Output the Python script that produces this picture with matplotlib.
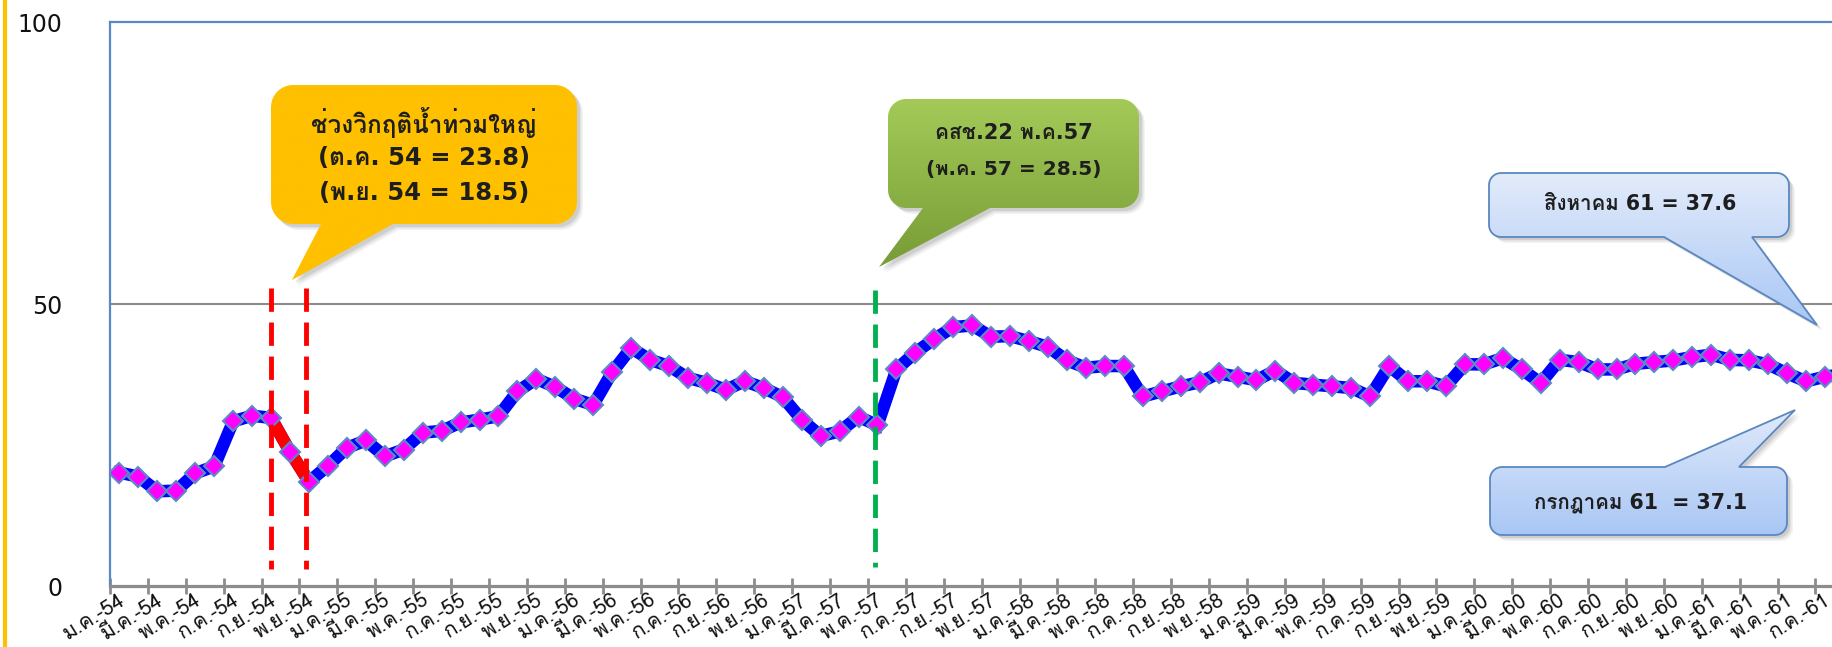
import numpy as np
import matplotlib
matplotlib.use("Agg")
import matplotlib.pyplot as plt
from matplotlib import font_manager
from matplotlib.ft2font import FT2Font
from matplotlib.path import Path
from matplotlib.patches import PathPatch
from matplotlib.transforms import Affine2D, ScaledTranslation
from matplotlib.lines import Line2D

W, H = 1832, 647

# ---- data: monthly index, ม.ค.-54 .. ส.ค.-61 ----
month_abbr = ["ม.ค.", "ก.พ.", "มี.ค.", "เม.ย.", "พ.ค.", "มิ.ย.",
              "ก.ค.", "ส.ค.", "ก.ย.", "ต.ค.", "พ.ย.", "ธ.ค."]
month_full = ["มกราคม", "กุมภาพันธ์", "มีนาคม", "เมษายน", "พฤษภาคม", "มิถุนายน",
              "กรกฎาคม", "สิงหาคม", "กันยายน", "ตุลาคม", "พฤศจิกายน", "ธันวาคม"]
years = [54, 55, 56, 57, 58, 59, 60, 61]

idx_54 = [20.1, 19.4, 16.8, 16.9, 20.0, 21.2, 29.2, 30.2, 29.8, 23.8, 18.5, 21.3]
idx_55 = [24.5, 25.8, 23.0, 24.2, 27.2, 27.5, 29.0, 29.5, 30.1, 34.5, 36.7, 35.3]
idx_56 = [33.2, 32.1, 37.9, 42.2, 40.1, 39.0, 36.9, 36.0, 34.8, 36.3, 35.1, 33.5]
idx_57 = [29.5, 26.6, 27.4, 30.0, 28.5, 38.4, 41.4, 43.8, 45.9, 46.2, 44.2, 44.3]
idx_58 = [43.4, 42.4, 40.0, 38.7, 39.0, 39.0, 33.6, 34.5, 35.4, 36.1, 37.7, 37.1]
idx_59 = [36.5, 38.2, 36.0, 35.7, 35.4, 35.1, 33.6, 39.0, 36.3, 36.3, 35.4, 39.3]
idx_60 = [39.3, 40.4, 38.4, 36.0, 40.1, 39.7, 38.4, 38.4, 39.4, 39.7, 40.0, 40.6]
idx_61 = [41.0, 40.1, 40.0, 39.3, 37.7, 36.3, 37.1, 37.6]

values = idx_54 + idx_55 + idx_56 + idx_57 + idx_58 + idx_59 + idx_60 + idx_61
n = len(values)
x = np.arange(n)
categories = [f"{month_abbr[i % 12]}-{years[i // 12]}" for i in range(n)]

flood_start, flood_oct, flood_nov = 8, 9, 10     # ก.ย.-54 .. พ.ย.-54
coup_idx = 40                                     # พ.ค.-57
jul61, aug61 = n - 2, n - 1


def thai_family():
    for fe in font_manager.fontManager.ttflist:
        try:
            if 0x0E01 in FT2Font(fe.fname).get_charmap():
                return fe.name
        except Exception:
            continue
    return None


tf = thai_family()
fam = [tf, "DejaVu Sans"] if tf else ["DejaVu Sans"]
fam_latin_first = ["DejaVu Sans", tf] if tf else ["DejaVu Sans"]
plt.rcParams["font.family"] = fam

fig = plt.figure(figsize=(W / 100, H / 100), dpi=100)
step = 18.95
ax = fig.add_axes([110 / W, 1 - 586 / H, step * n / W, (586 - 22) / H])
ax.set_xlim(-0.5, n - 0.5)
ax.set_ylim(0, 100)

ax.axhline(50, color="#8c8c8c", lw=1.5, zorder=1)

# series
ax.plot(x, values, color="#0000ff", lw=9, zorder=3, solid_joinstyle="miter")
ax.plot(x[flood_start:flood_nov + 1], values[flood_start:flood_nov + 1],
        color="#ff0000", lw=9, zorder=3.5, solid_joinstyle="miter")
ax.plot(x, values, ls="none", marker="D", ms=10.5, mfc="#ff00ff",
        mec="#5b8ac6", mew=1.5, zorder=4)

# event markers
dash = (0, (4.8, 2.2))
ax.plot([flood_start, flood_start], [52.8, 3.0], color="#ff0000", lw=3.5,
        ls=dash, zorder=5)
ax.plot([flood_nov - 0.15, flood_nov - 0.15], [52.8, 3.0], color="#ff0000",
        lw=3.5, ls=dash, zorder=5)
ax.plot([coup_idx - 0.12, coup_idx - 0.12], [52.5, 3.4], color="#00b050",
        lw=3.5, ls=dash, zorder=5)

# axes styling
for s in ("left", "top", "right"):
    ax.spines[s].set_color("#5b87c5")
    ax.spines[s].set_linewidth(1.6)
ax.spines["bottom"].set_color("#8c8c8c")
ax.spines["bottom"].set_linewidth(2.3)

ax.set_yticks([0, 50, 100])
ax.tick_params(axis="y", length=0, pad=34, labelsize=17, labelcolor="#111111")
for lbl in ax.get_yticklabels():
    lbl.set_family("DejaVu Sans")

ax.set_xticks(np.arange(-0.5, n, 2))
ax.tick_params(axis="x", which="major", length=12, width=2, direction="inout",
               color="#8c8c8c", labelbottom=False)
ax.set_xticks(x[::2], labels=categories[::2], minor=True)
ax.tick_params(axis="x", which="minor", length=0, pad=3, labelsize=15,
               labelcolor="#111111")
shift = ScaledTranslation(9 / 100, 0, fig.dpi_scale_trans)
for lbl in ax.get_xticklabels(minor=True):
    lbl.set_rotation(32)
    lbl.set_ha("right")
    lbl.set_va("top")
    lbl.set_rotation_mode("default")
    lbl.set_transform(lbl.get_transform() + shift)

# left frame stripe
fig.add_artist(Line2D([4.5 / W, 4.5 / W], [0, 1], color="#ffc000", lw=3,
                      transform=fig.transFigure))

# ---- callouts in pixel space ----
ov = fig.add_axes([0, 0, 1, 1], zorder=6)
ov.set_xlim(0, W)
ov.set_ylim(H, 0)
ov.axis("off")


def balloon(x0, y0, x1, y1, r, base, tip, side):
    pts = []

    def arc(cx, cy, a0, a1):
        for a in np.radians(np.linspace(a0, a1, 10)):
            pts.append((cx + r * np.cos(a), cy + r * np.sin(a)))

    arc(x0 + r, y0 + r, 180, 270)
    if side == "top":
        pts.extend([(base[0], y0), tip, (base[1], y0)])
    arc(x1 - r, y0 + r, 270, 360)
    arc(x1 - r, y1 - r, 0, 90)
    if side == "bottom":
        pts.extend([(base[1], y1), tip, (base[0], y1)])
    arc(x0 + r, y1 - r, 90, 180)
    return Path(pts + [pts[0]], closed=True)


def draw_balloon(path, top_color, bottom_color, edge=None):
    for d, a in ((6, 0.06), (4.5, 0.09), (3, 0.12)):
        ov.add_patch(PathPatch(path.transformed(Affine2D().translate(d, d)),
                               fc="#404040", ec="none", alpha=a, zorder=1))
    ext = path.get_extents()
    clip = PathPatch(path, fc="none", ec=edge if edge else "none",
                     lw=1.3, zorder=3)
    ov.add_patch(clip)
    c0 = np.array(matplotlib.colors.to_rgb(top_color))
    c1 = np.array(matplotlib.colors.to_rgb(bottom_color))
    t = np.linspace(0, 1, 64)[:, None, None]
    grad = c0 * (1 - t) + c1 * t
    im = ov.imshow(grad, extent=(ext.x0, ext.x1, ext.y1, ext.y0),
                   aspect="auto", interpolation="bilinear", zorder=2)
    im.set_clip_path(clip)


txt = dict(ha="center", va="center", fontweight="bold", color="#1e1e1e",
           family=fam_latin_first, zorder=4)

# flood period
draw_balloon(balloon(271, 85, 577, 224, 22, (321, 393), (292, 280), "bottom"),
             "#ffc000", "#ffc000")
ov.text(424, 122, "ช่วงวิกฤติน้ำท่วมใหญ่", fontsize=17.5, **txt)
ov.text(424, 158, f"({month_abbr[flood_oct % 12]} {years[flood_oct // 12]} = "
        f"{values[flood_oct]:.1f})", fontsize=17.5, **txt)
ov.text(424, 193, f"({month_abbr[flood_nov % 12]} {years[flood_nov // 12]} = "
        f"{values[flood_nov]:.1f})", fontsize=17.5, **txt)

# NCPO
draw_balloon(balloon(888, 99, 1139, 208, 18, (923, 990), (879, 267), "bottom"),
             "#a3ca58", "#789c36")
ov.text(1014, 133, f"คสช.22 {month_abbr[coup_idx % 12]}{years[coup_idx // 12]}",
        fontsize=15, **txt)
ov.text(1014, 169, f"({month_abbr[coup_idx % 12]} {years[coup_idx // 12]} = "
        f"{values[coup_idx]:.1f})", fontsize=14.5, **txt)

# latest months
draw_balloon(balloon(1489, 173, 1789, 237, 12, (1664, 1752), (1817, 325), "bottom"),
             "#e2ebfa", "#a9c7f5", edge="#5b87c0")
ov.text(1640, 204, f"{month_full[aug61 % 12]} {years[aug61 // 12]} = "
        f"{values[aug61]:.1f}", fontsize=14.8, **txt)

draw_balloon(balloon(1490, 467, 1787, 535, 12, (1665, 1739), (1795, 410), "top"),
             "#dfe9fa", "#a9c7f5", edge="#5b87c0")
ov.text(1641, 503, f"{month_full[jul61 % 12]} {years[jul61 // 12]}  = "
        f"{values[jul61]:.1f}", fontsize=14.8, **txt)

ov.set_xlim(0, W)
ov.set_ylim(H, 0)

fig.savefig("out.png", dpi=100)
